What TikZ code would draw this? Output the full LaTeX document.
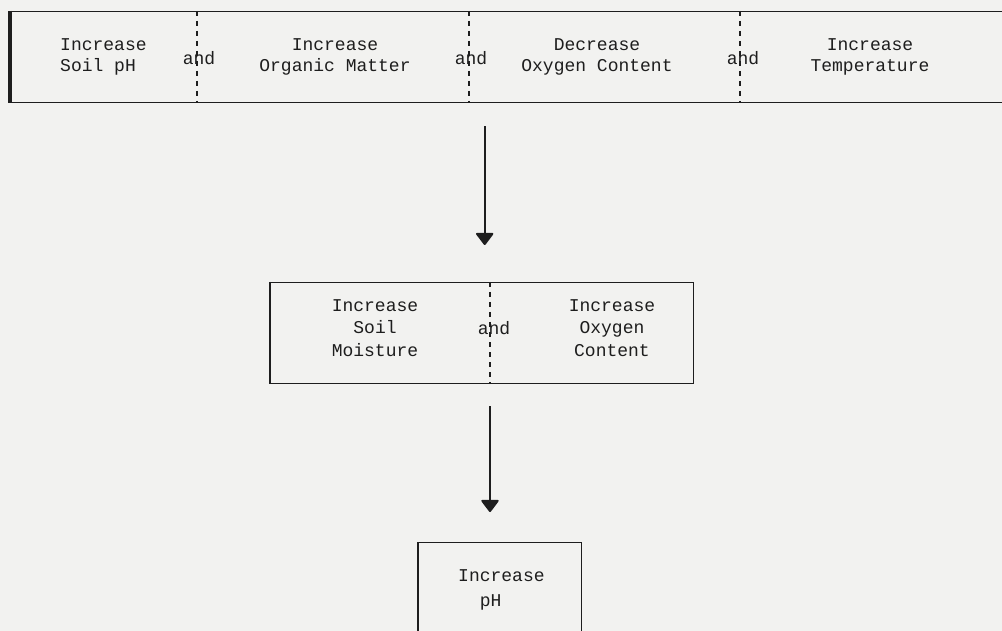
\documentclass[tikz,border=0pt]{standalone}
\usepackage{fontspec}
\setmainfont{Liberation Mono}
\usetikzlibrary{arrows.meta}
\definecolor{paper}{RGB}{242,242,240}
\definecolor{ink}{RGB}{30,30,30}
\tikzset{
  box/.style={draw=ink, line width=1.4pt, inner sep=0pt, anchor=north west},
  divider/.style={draw=ink, line width=2.2pt, dash pattern=on 5pt off 5pt},
  label/.style={text=ink, inner sep=0pt, font=\fontsize{18}{21}\selectfont},
  flow/.style={draw=ink, line width=2.2pt, -{Triangle[round, width=19pt, length=13pt]}}
}
\begin{document}
\begin{tikzpicture}[x=1pt, y=-1pt]
  \fill[paper] (0,0) rectangle (1002,631);
  \useasboundingbox (0,0) rectangle (1002,631);

  % first row: four conditions joined by "and"
  \node[box, minimum width=1000pt, minimum height=91pt] (top) at (10,11) {};
  \draw[ink, line width=3.5pt] (top.north west) -- (top.south west);
  \coordinate (d1) at (197,0);
  \coordinate (d2) at (469,0);
  \coordinate (d3) at (740,0);
  \draw[divider] (d1 |- top.north) -- (d1 |- top.south);
  \draw[divider] (d2 |- top.north) -- (d2 |- top.south);
  \draw[divider] (d3 |- top.north) -- (d3 |- top.south);

  \node[label, align=left, anchor=west] (t1) at (60,57) {Increase\\Soil pH};
  \node[label] (and1) at (199,58) {and};
  \node[label, align=center] (t2) at (335,57) {Increase\\Organic Matter};
  \node[label] (and2) at (471,58) {and};
  \node[label, align=center] (t3) at (597,57) {Decrease\\Oxygen Content};
  \node[label] (and3) at (743,58) {and};
  \node[label, align=center] (t4) at (870,57) {Increase\\Temperature};

  % second row: two conditions
  \node[box, minimum width=423pt, minimum height=101pt] (mid) at (270,282) {};
  \draw[ink, line width=2.4pt] (mid.north west) -- (mid.south west);
  \coordinate (md) at (490,0);
  \draw[divider] (md |- mid.north) -- (md |- mid.south);
  \node[label, align=center, font=\fontsize{18}{22.5}\selectfont] (m1) at (375,328) {Increase\\Soil\\Moisture};
  \node[label] (and4) at (494,328) {and};
  \node[label, align=center, font=\fontsize{18}{22.5}\selectfont] (m2) at (612,328) {Increase\\Oxygen\\Content};

  % result
  \node[box, minimum width=163pt, minimum height=150pt] (bot) at (418,542) {};
  \draw[ink, line width=2.4pt] (bot.north west) -- (bot.south west);
  \node[label, align=left, anchor=west, font=\fontsize{18}{25}\selectfont] (r) at (458,590) {Increase\\\ \ pH};

  % arrows between rows
  \draw[flow, shorten <=23pt, shorten >=37pt]
    ([xshift=2.5pt]mid.north |- top.south) -- ([xshift=2.5pt]mid.north);
  \draw[flow, shorten <=22pt, shorten >=30pt]
    (md |- mid.south) -- (md |- bot.north);
\end{tikzpicture}
\end{document}
